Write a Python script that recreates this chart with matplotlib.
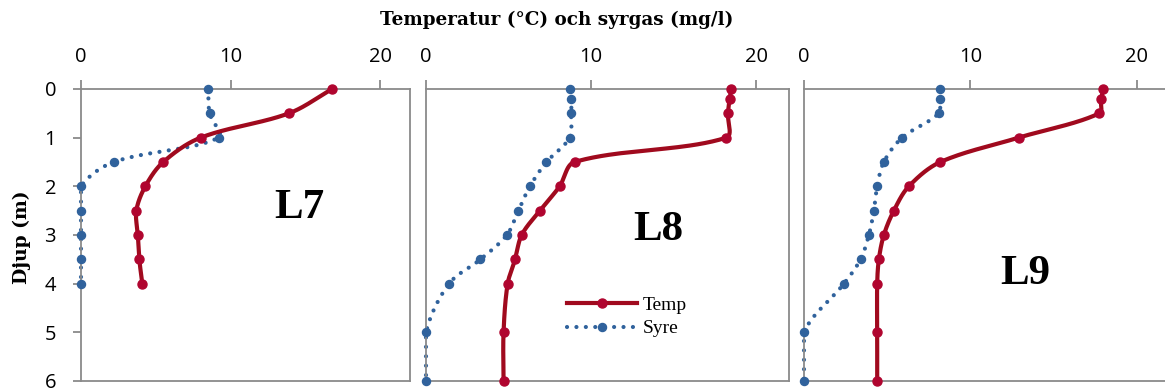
import numpy as np
import matplotlib
matplotlib.use("Agg")
import matplotlib.pyplot as plt
from matplotlib.lines import Line2D

# ---------------- data ----------------
depth_L7 = [0, 0.5, 1.0, 1.5, 2.0, 2.5, 3.0, 3.5, 4.0]
temp_L7 = [16.8, 13.9, 8.0, 5.5, 4.3, 3.7, 3.8, 3.9, 4.1]
syre_L7 = [8.5, 8.6, 9.2, 2.2, 0.0, 0.0, 0.0, 0.0, 0.0]

depth_L8 = [0, 0.2, 0.5, 1.0, 1.5, 2.0, 2.5, 3.0, 3.5, 4.0, 5.0, 6.0]
temp_L8 = [18.5, 18.4, 18.3, 18.2, 9.0, 8.1, 6.9, 5.8, 5.4, 4.95, 4.7, 4.7]
syre_L8 = [8.7, 8.8, 8.8, 8.7, 7.3, 6.3, 5.6, 4.9, 3.3, 1.4, 0.0, 0.0]

depth_L9 = [0, 0.2, 0.5, 1.0, 1.5, 2.0, 2.5, 3.0, 3.5, 4.0, 5.0, 6.0]
temp_L9 = [18.0, 17.85, 17.75, 12.9, 8.2, 6.3, 5.4, 4.8, 4.5, 4.4, 4.4, 4.4]
syre_L9 = [8.2, 8.15, 8.1, 5.9, 4.8, 4.4, 4.2, 3.9, 3.4, 2.4, 0.0, 0.0]

panel_names = ["L7", "L8", "L9"]
x_ticks = [0, 10, 20]
y_ticks = [0, 1, 2, 3, 4, 5, 6]
title_text = "Temperatur (°C) och syrgas (mg/l)"
ylabel_text = "Djup (m)"
legend_labels = ["Temp", "Syre"]

# ---------------- style ----------------
TEMP_LINE = "#A00A1E"
TEMP_MARK = "#B0052F"
SYRE = "#30629C"
SPINE = "#8A8A8A"


def smooth_line(x, y, sx, sy, n=40):
    """Excel-like smoothed line: cubic Bezier segments with chord-length weighted
    tangents (computed in screen pixels)."""
    pts = np.column_stack([np.asarray(x, float) * sx, np.asarray(y, float) * sy])
    out = [pts[0]]
    t = np.linspace(0, 1, n)[1:, None]
    for i in range(len(pts) - 1):
        p0 = pts[i - 1] if i > 0 else pts[i]
        p1 = pts[i]
        p2 = pts[i + 1]
        p3 = pts[i + 2] if i + 2 < len(pts) else pts[i + 1]
        L01 = np.hypot(*(p1 - p0))
        L12 = np.hypot(*(p2 - p1))
        L23 = np.hypot(*(p3 - p2))
        f1 = L12 / (L01 + L12) / 3 if (L01 + L12) > 0 else 0
        f2 = L12 / (L12 + L23) / 3 if (L12 + L23) > 0 else 0
        c1 = p1 + (p2 - p0) * f1
        c2 = p2 - (p3 - p1) * f2
        seg = ((1 - t) ** 3) * p1 + 3 * ((1 - t) ** 2) * t * c1 + 3 * (1 - t) * t ** 2 * c2 + t ** 3 * p2
        out.extend(seg)
    out = np.array(out)
    return out[:, 0] / sx, out[:, 1] / sy


W, H = 1165, 389
fig = plt.figure(figsize=(W / 100, H / 100), dpi=100)

top_px, bot_px = 89, 381
panels_px = [(81, 410), (426, 789), (804, 1170)]
data = [(depth_L7, temp_L7, syre_L7), (depth_L8, temp_L8, syre_L8), (depth_L9, temp_L9, syre_L9)]
label_pos = [(14.6, 2.45), (14.1, 2.9), (13.3, 3.8)]

tick_font = "Open Sans"
serif = ["Liberation Serif", "DejaVu Serif"]
serif_wide = ["DejaVu Serif"]

XMAX = 22
axes = []
for k, ((l, r), (d, tmp, sy)) in enumerate(zip(panels_px, data)):
    ax = fig.add_axes([l / W, 1 - bot_px / H, (r - l) / W, (bot_px - top_px) / H])
    axes.append(ax)
    pxx = (r - l) / XMAX
    pxy = (bot_px - top_px) / 6.0
    sx_, sdy = smooth_line(sy, d, pxx, pxy)
    sx_ = np.maximum(sx_, 0.0)  # oxygen never drawn below zero
    ax.plot(sx_, sdy, color=SYRE, lw=3.0, ls=(0, (0.01, 2.25)), dash_capstyle="round", zorder=2, clip_on=False)
    ax.plot(sy, d, "o", color=SYRE, ms=5.8, mec=SYRE, zorder=3, clip_on=False)
    tx, tdy = smooth_line(tmp, d, pxx, pxy)
    ax.plot(tx, tdy, color=TEMP_LINE, lw=3.0, solid_capstyle="round", solid_joinstyle="round", zorder=4, clip_on=False)
    ax.plot(tmp, d, "o", color=TEMP_MARK, ms=6.5, mec=TEMP_MARK, zorder=5, clip_on=False)

    ax.set_xlim(0, XMAX)
    ax.set_ylim(6, 0)
    ax.xaxis.tick_top()
    ax.set_xticks(x_ticks)
    ax.set_yticks(y_ticks)
    for s in ax.spines.values():
        s.set_color(SPINE)
        s.set_linewidth(1.3)
    ax.tick_params(axis="x", which="both", top=True, bottom=False, direction="out", length=6.5,
                   width=1.3, color=SPINE, pad=9, labelsize=14.5, labelfontfamily=tick_font)
    if k == 0:
        ax.tick_params(axis="y", direction="out", length=6, width=1.3, color=SPINE, pad=12,
                       labelsize=14.5, labelfontfamily=tick_font)
    else:
        ax.tick_params(axis="y", left=False, labelleft=False)
    ax.text(label_pos[k][0], label_pos[k][1], panel_names[k], fontsize=31, fontweight="bold",
            family=serif, ha="center", va="center")

# legend in middle panel
handles = [
    Line2D([], [], color=TEMP_LINE, lw=3.0, marker="o", ms=6.5, mfc=TEMP_MARK, mec=TEMP_MARK),
    Line2D([], [], color=SYRE, lw=3.0, ls=(0, (0.01, 2.25)), dash_capstyle="round", marker="o", ms=5.8,
           mfc=SYRE, mec=SYRE),
]
leg = axes[1].legend(handles, legend_labels, loc="upper left", bbox_to_anchor=(0.388, 0.29),
                     frameon=False, borderpad=0, borderaxespad=0, handlelength=3.6, handletextpad=0.3,
                     labelspacing=0.3, numpoints=1, prop={"family": serif, "size": 14})

fig.text(557 / W, 1 - 20 / H, title_text, ha="center", va="center", fontsize=13.2,
         fontweight="bold", family=serif_wide)
fig.text(22 / W, 1 - 237 / H, ylabel_text, ha="center", va="center", rotation=90, fontsize=13.5,
         fontweight="bold", family=serif_wide)

fig.savefig("out.png", dpi=100)
